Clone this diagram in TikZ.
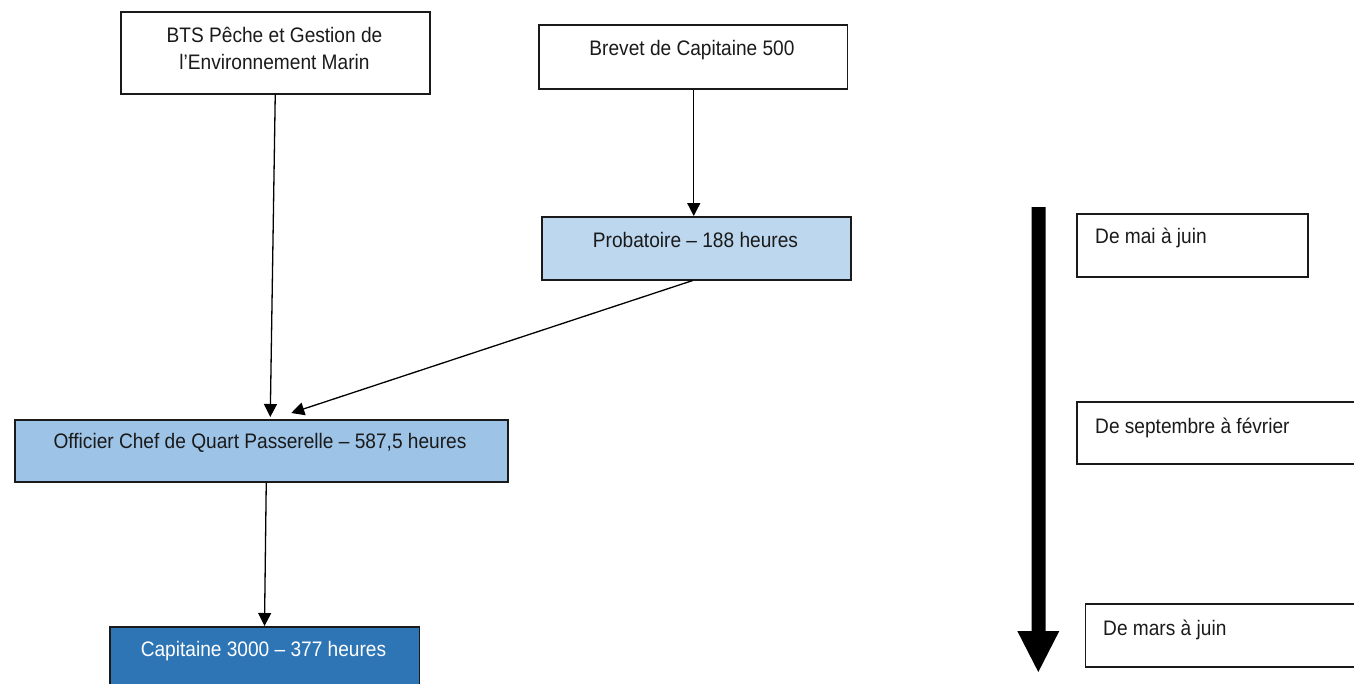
\documentclass[tikz,border=0pt]{standalone}
\usepackage{fontspec}
\setmainfont{Liberation Sans}[FakeStretch=0.91]
\usetikzlibrary{arrows.meta,calc}
\definecolor{pale}{HTML}{BDD7EE}
\definecolor{mid}{HTML}{9DC3E6}
\definecolor{deep}{HTML}{2E75B6}
\definecolor{ink}{HTML}{1A1A1A}
\begin{document}
\begin{tikzpicture}[x=1pt,y=-1pt,
  box/.style={draw=ink, line width=1.5pt, inner sep=0pt, anchor=north west},
  txt/.style={font=\fontsize{21}{27}\selectfont, text=ink, anchor=base, align=center, inner sep=0pt},
  conn/.style={draw=black, line width=1.3pt, -{Triangle[length=13pt,width=13pt]}}]
\useasboundingbox (0,0) rectangle (1354,683);
\clip (0,0) rectangle (1354,683);
% boxes
\node[box, minimum width=309pt, minimum height=82pt] (bts) at (120,11) {};
\node[box, minimum width=308.5pt, minimum height=64pt] (brevet) at (538,24) {};
\node[box, fill=pale, minimum width=309pt, minimum height=63pt] (prob) at (541,216) {};
\node[box, fill=mid, minimum width=493pt, minimum height=62pt] (ocqp) at (14,419) {};
\node[box, fill=deep, minimum width=309.5pt, minimum height=80pt] (cap) at (109,626) {};
\node[box, minimum width=231pt, minimum height=63pt] (mai) at (1076,213) {};
\node[box, minimum width=300pt, minimum height=62pt] (sept) at (1076,401) {};
\node[box, minimum width=300pt, minimum height=63pt] (mars) at (1084.5,603) {};
% texts
\node[txt] (btst) at (274.5,69.5) {BTS Pêche et Gestion de\\l’Environnement Marin};
\node[txt] (brevett) at (692,55) {Brevet de Capitaine 500};
\node[txt] (probt) at (695.5,247) {Probatoire – 188 heures};
\node[txt] (ocqpt) at (260,448) {Officier Chef de Quart Passerelle – 587,5 heures};
\node[txt, text=white] (capt) at (263.5,656) {Capitaine 3000 – 377 heures};
\node[txt, anchor=base west] (mait) at (1095,243) {De mai à juin};
\node[txt, anchor=base west] (septt) at (1095,433) {De septembre à février};
\node[txt, anchor=base west] (marst) at (1103,635) {De mars à juin};
% connectors
\draw[conn] (bts.south) -- ($(ocqp.north)+(9,-2)$);
\draw[conn] ($(brevet.south)+(0.75,0)$) -- ($(prob.north)+(-2.5,0)$);
\draw[conn] ($(prob.south)+(-3.5,0)$) -- ($(ocqp.north)+(30,-6)$);
\draw[conn] ($(ocqp.south)+(5,0)$) -- (cap.north);
% timeline arrow
\coordinate (ttop) at (1038.7,207);
\coordinate (ttip) at (1038.3,672);
\fill[black] ($(ttop)+(-7,0)$) -- ($(ttop)+(7,0)$) -- ($(ttop)+(7,424)$) -- ($(ttop)+(20.6,424)$)
  -- (ttip) -- ($(ttop)+(-21.4,424)$) -- ($(ttop)+(-7,424)$) -- cycle;
\end{tikzpicture}
\end{document}
